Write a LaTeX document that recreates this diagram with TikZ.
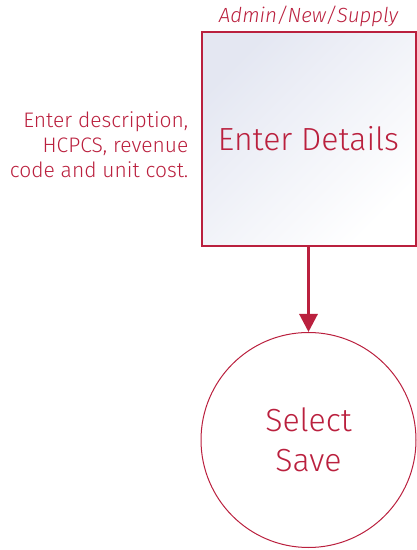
\documentclass[tikz,border=0pt]{standalone}
\usepackage{fontspec}
\setmainfont{Fira Sans Light}[ItalicFont={Fira Sans Light Italic}]
\usetikzlibrary{arrows.meta,positioning,shapes}
\definecolor{crimson}{RGB}{186,32,62}
\definecolor{boxgrey}{RGB}{228,231,242}
\tikzset{
    stepbox/.style={draw=crimson, line width=2pt, minimum size=214pt, inner sep=0pt,
        top color=boxgrey, bottom color=white, shading angle=45,
        text=crimson, font=\fontsize{32}{38}\selectfont},
    endcircle/.style={circle, draw=crimson, line width=1pt, minimum size=215pt, inner sep=0pt,
        text=crimson, align=center, font=\fontsize{32}{40}\selectfont},
    note/.style={text=crimson, align=right, inner sep=0pt, font=\fontsize{21}{25}\selectfont},
}

\begin{document}
\begin{tikzpicture}
    \useasboundingbox (0,0) rectangle (417pt,550pt);
    \node[stepbox] (details) at (308.5pt,411pt) {Enter Details};
    \node[endcircle] (save) [below=85pt of details] {Select\\Save};
    \node[note] (hint) [left=12pt of details, yshift=-6pt] {Enter description,\\HCPCS, revenue\\code and unit cost.};
    \node[text=crimson, inner sep=0pt, font=\fontsize{20.5}{22}\selectfont\itshape] (path) [above=4pt of details] {Admin/New/Supply};

    \draw[-{Triangle[width=18pt,length=18pt]}, crimson, line width=3pt] (details) -- (save);
\end{tikzpicture}
\end{document}
